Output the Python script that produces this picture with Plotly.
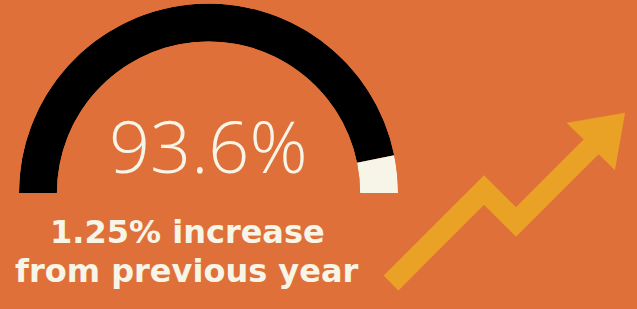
import plotly.graph_objects as go

# Data
value = 93.6
max_value = 100
main_label = "93.6%"
sub_label = ["1.25% increase", "from previous year"]
arrow_x = [391, 484, 516, 592]
arrow_y = [283, 190, 222, 146]
head_x = [625, 567, 615]
head_y = [113, 123, 170]

BG = "#E07039"
CREAM = "#F6F5E7"
ARROW = "#E9A126"

W, H = 637, 309
fig = go.Figure()

deg_per = 180 / max_value
fig.add_trace(go.Barpolar(
    r=[1, 1],
    theta=[value * deg_per / 2, (value + max_value) * deg_per / 2],
    width=[value * deg_per, (max_value - value) * deg_per],
    marker=dict(color=["#000000", CREAM], line=dict(width=0)),
    hoverinfo="skip", showlegend=False,
))

fig.add_trace(go.Scatter(
    x=arrow_x, y=arrow_y, mode="lines",
    line=dict(color=ARROW, width=21),
    hoverinfo="skip", showlegend=False,
))
fig.add_trace(go.Scatter(
    x=head_x, y=head_y, mode="lines", fill="toself", fillcolor=ARROW,
    line=dict(color=ARROW, width=0.5),
    hoverinfo="skip", showlegend=False,
))

cx, cy, R = 208.5, 193, 189.5
fig.update_layout(
    width=W, height=H,
    margin=dict(l=0, r=0, t=0, b=0),
    paper_bgcolor=BG, plot_bgcolor="rgba(0,0,0,0)",
    polar=dict(
        domain=dict(x=[(cx - R) / W, (cx + R) / W], y=[(H - cy) / H, (H - cy + R) / H]),
        sector=[0, 180], hole=0.8, bgcolor="rgba(0,0,0,0)",
        angularaxis=dict(visible=False, rotation=180, direction="clockwise"),
        radialaxis=dict(visible=False, range=[0, 1]),
        barmode="overlay",
    ),
    xaxis=dict(range=[0, W], visible=False, fixedrange=True),
    yaxis=dict(range=[H, 0], visible=False, fixedrange=True),
    showlegend=False,
)

fig.add_annotation(
    x=208, y=176, xref="x", yref="y", text=main_label, showarrow=False,
    xanchor="center", yanchor="bottom", yshift=-20,
    font=dict(family="Open Sans", size=72, color=CREAM, weight=350),
)
fig.add_annotation(
    x=187, y=244, xref="x", yref="y", text=sub_label[0], showarrow=False,
    xanchor="center", yanchor="bottom", yshift=-9,
    font=dict(family="DejaVu Sans", size=32, color=CREAM, weight="bold"),
)
fig.add_annotation(
    x=187, y=283, xref="x", yref="y", text=sub_label[1], showarrow=False,
    xanchor="center", yanchor="bottom", yshift=-9,
    font=dict(family="DejaVu Sans", size=32, color=CREAM, weight="bold"),
)

fig.write_html(
    "out.html",
    config={"displayModeBar": False, "staticPlot": True},
    post_script="document.body.style.margin='0';document.body.style.overflow='hidden';",
)
